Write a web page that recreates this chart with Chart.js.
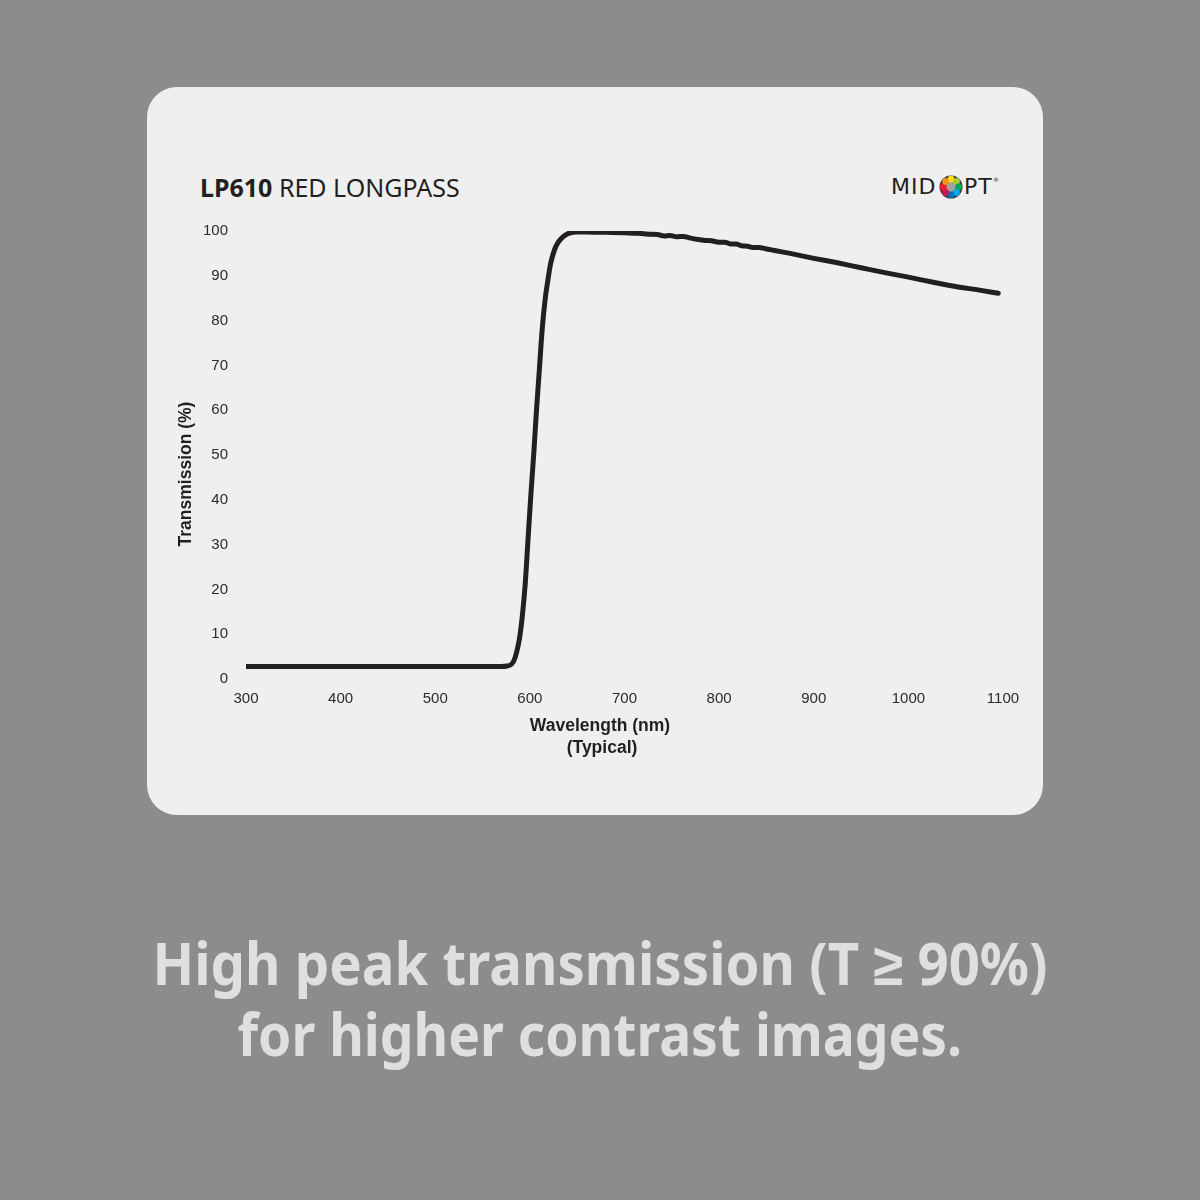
<!DOCTYPE html>
<html><head><meta charset="utf-8">
<script src="https://cdn.jsdelivr.net/npm/chart.js@4.4.0/dist/chart.umd.min.js"></script>
<style>
html,body{margin:0;padding:0;background:#8c8c8c;width:1200px;height:1200px;overflow:hidden;}
#card{position:absolute;left:147px;top:87px;width:896px;height:728px;background:#efefef;border-radius:30px;}
#wrap{position:absolute;left:147px;top:87px;width:896px;height:728px;}
#title{position:absolute;left:200px;top:175px;font-family:'Noto Sans',sans-serif;font-size:25px;line-height:25px;color:#231f20;white-space:nowrap;}
#title b{font-weight:700;}
.logo{position:absolute;font-family:'DejaVu Sans',sans-serif;font-size:22px;line-height:22px;color:#231f20;white-space:nowrap;letter-spacing:1px;}
#reg{position:absolute;left:993px;top:176px;font-family:'DejaVu Sans';font-size:6px;color:#231f20;}
#dots{position:absolute;left:939px;top:175px;}
.bottom{position:absolute;left:0;width:1200px;text-align:center;font-family:'Noto Sans',sans-serif;font-weight:700;font-size:59px;line-height:59px;color:#dfdfdf;white-space:nowrap;}
.bottom span{display:inline-block;transform-origin:50% 50%;}
</style></head>
<body>
<div id="card"></div>
<div id="title"><b>LP610</b> RED LONGPASS</div>
<div class="logo" style="left:891px;top:176px;">MID</div>
<svg id="dots" width="24" height="24" viewBox="0 0 24 24">
  <circle cx="12" cy="12" r="11.5" fill="#3a3a3a"/>
  <circle cx="12" cy="12" r="5" fill="#a3a3a3"/>
  <circle cx="12" cy="4.2" r="3.4" fill="#ffde17"/>
  <circle cx="17.5" cy="6.5" r="3.4" fill="#a6ce39"/>
  <circle cx="19.8" cy="12" r="3.4" fill="#00a651"/>
  <circle cx="17.5" cy="17.5" r="3.4" fill="#00aeef"/>
  <circle cx="12" cy="19.8" r="3.4" fill="#0072bc"/>
  <circle cx="6.5" cy="17.5" r="3.4" fill="#c2185b"/>
  <circle cx="4.2" cy="12" r="3.4" fill="#ed1c24"/>
  <circle cx="6.5" cy="6.5" r="3.4" fill="#f7941d"/>
</svg>
<div class="logo" style="left:964px;top:176px;">PT</div>
<div id="reg">®</div>
<div id="wrap"><canvas id="c" width="896" height="728"></canvas></div>
<div class="bottom" style="top:933px;"><span id="l1">High peak transmission (T ≥ 90%)</span></div>
<div class="bottom" style="top:1004px;"><span id="l2">for higher contrast images.</span></div>
<script>
const wavelengths = [300,350,400,450,500,550,570,576,580,583,586,589,592,595,598,601,604,607,610,613,616,619,622,626,630,635,640,648,660,680,700,715,725,735,742,748,755,762,770,778,785,792,800,806,812,818,824,830,836,842,850,860,875,900,925,950,975,1000,1025,1050,1075,1095];
const transmission = [2.8,2.8,2.8,2.8,2.8,2.8,2.8,2.9,3.2,4.0,6.0,9.0,14.0,21.0,31.0,41.0,50.0,60.0,69.0,78.0,84.5,89.0,92.8,95.8,97.5,98.7,99.4,99.8,99.8,99.7,99.6,99.5,99.3,99.2,98.9,99.0,98.7,98.8,98.4,98.1,97.9,97.8,97.5,97.5,97.1,97.1,96.7,96.6,96.3,96.3,96.0,95.6,95.0,93.9,92.9,91.8,90.7,89.7,88.6,87.6,86.8,86.1];
const xTickValues = [300,400,500,600,700,800,900,1000,1100];
const yTickValues = [0,10,20,30,40,50,60,70,80,90,100];
const yTitle = 'Transmission (%)';
const xTitleLines = ['Wavelength (nm)','(Typical)'];

const axisTitles = {
  id:'axisTitles',
  afterDraw(chart){
    const ctx = chart.ctx, a = chart.chartArea;
    ctx.save();
    ctx.fillStyle = '#231f20';
    ctx.font = 'bold 17.5px "Liberation Sans", Arial, sans-serif';
    ctx.textAlign = 'center';
    ctx.textBaseline = 'middle';
    ctx.fillText(xTitleLines[0], a.left + 354, a.bottom + 47);
    ctx.fillText(xTitleLines[1], a.left + 356, a.bottom + 69);
    ctx.translate(a.left - 60, a.top + 243);
    ctx.rotate(-Math.PI/2);
    ctx.fillText(yTitle, 0, 0);
    ctx.restore();
  }
};

new Chart(document.getElementById('c'), {
  type:'line',
  data:{ datasets:[{
    data: wavelengths.map((w,i)=>({x:w, y:transmission[i]})),
    borderColor:'#231f20', borderWidth:5, pointRadius:0, fill:false,
    cubicInterpolationMode:'monotone', borderCapStyle:'round', borderJoinStyle:'round'
  }]},
  options:{
    responsive:false, animation:false, devicePixelRatio:1,
    layout:{padding:{left:0, top:144, right:40, bottom:0}},
    plugins:{legend:{display:false}, tooltip:{enabled:false}},
    scales:{
      x:{type:'linear', min:300, max:1100,
         grid:{display:false, drawTicks:false}, border:{display:false},
         afterBuildTicks:s=>{ s.ticks = xTickValues.map(v=>({value:v})); },
         afterFit:s=>{ s.height = 136; },
         ticks:{padding:11, color:'#2b2b2b', font:{family:'"Liberation Sans", Arial, sans-serif', size:15}, maxRotation:0, autoSkip:false,
                callback:v=>String(v)}},
      y:{type:'linear', min:0, max:100,
         grid:{display:false, drawTicks:false}, border:{display:false},
         afterBuildTicks:s=>{ s.ticks = yTickValues.map(v=>({value:v})); },
         afterFit:s=>{ s.width = 99; },
         ticks:{padding:18, color:'#2b2b2b', font:{family:'"Liberation Sans", Arial, sans-serif', size:15}, autoSkip:false,
                callback:v=>String(v)}}
    }
  },
  plugins:[axisTitles]
});

function fit(id, target){
  const el = document.getElementById(id);
  const w = el.offsetWidth;
  el.style.transform = 'scaleX(' + (target / w) + ')';
}
fit('l1', 895); fit('l2', 725);
document.fonts.ready.then(()=>{ fit('l1', 895); fit('l2', 725); });
</script>
</body></html>
